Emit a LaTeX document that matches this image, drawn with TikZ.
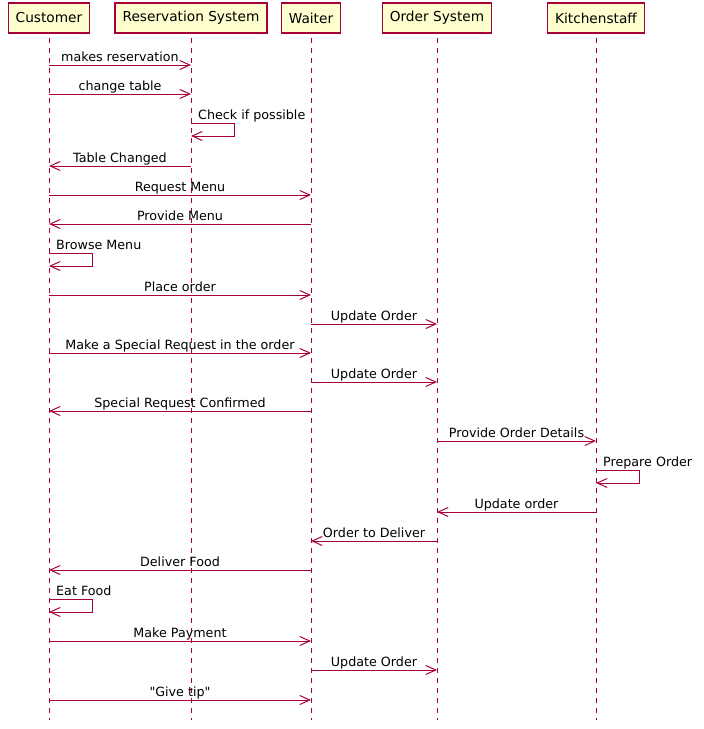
\documentclass[tikz,border=0pt]{standalone}
\usepackage{fontspec}
\setmainfont{DejaVu Sans}[Ligatures=TeXOff]
\usetikzlibrary{arrows.meta}
\definecolor{pumlred}{HTML}{A80036}
\definecolor{pumlfill}{HTML}{FEFECE}
\tikzset{
  part/.style={draw=pumlred, fill=pumlfill, line width=1.4pt, inner xsep=7.5pt,
    minimum height=30pt, font=\fontsize{13.7}{15}\selectfont, text=black},
  life/.style={draw=pumlred, line width=1pt, dash pattern=on 5pt off 5pt},
  msg/.style={draw=pumlred, line width=1pt, -{Straight Barb[length=10pt,width=9pt,line width=1pt]}},
  lbl/.style={anchor=base, inner sep=0pt, yshift=4pt, font=\fontsize{12.7}{14}\selectfont, text=black},
  slbl/.style={anchor=base west, inner sep=0pt, xshift=7pt, yshift=4pt, font=\fontsize{12.7}{14}\selectfont, text=black},
}
\newcommand{\seqmsg}[4]{\draw[msg] (#1 |- 0,#3) -- node[lbl]{#4} (#2 |- 0,#3);}
\newcommand{\seqself}[3]{%
  \draw[msg] (#1 |- 0,#2) -- ++(43,0) -- ++(0,13) -- (#1 |- 0,{#2+13});
  \node[slbl] at (#1 |- 0,#2) {#3};}
\begin{document}
\begin{tikzpicture}[x=1pt,y=-1pt]
\useasboundingbox[fill=white] (0,0) rectangle (704,729);
% lifelines
\coordinate (Ce) at (49,720);
\coordinate (Re) at (191,720);
\coordinate (We) at (311,720);
\coordinate (Oe) at (437,720);
\coordinate (Ke) at (596,720);
\coordinate (C) at (49,18);
\coordinate (R) at (191,18);
\coordinate (W) at (311,18);
\coordinate (O) at (437,18);
\coordinate (K) at (596,18);
\draw[life] (C) -- (Ce);
\draw[life] (R) -- (Re);
\draw[life] (W) -- (We);
\draw[life] (O) -- (Oe);
\draw[life] (K) -- (Ke);
% participants
\node[part] (Cust) at (C) {Customer};
\node[part] (Res) at (R) {Reservation System};
\node[part] (Wait) at (W) {Waiter};
\node[part] (Ord) at (O) {Order System};
\node[part] (Kit) at (K) {Kitchenstaff};
% messages
\seqmsg{C}{R}{65}{makes reservation}
\seqmsg{C}{R}{94}{change table}
\seqself{R}{123}{Check if possible}
\seqmsg{R}{C}{166}{Table Changed}
\seqmsg{C}{W}{195}{Request Menu}
\seqmsg{W}{C}{224}{Provide Menu}
\seqself{C}{253}{Browse Menu}
\seqmsg{C}{W}{295}{Place order}
\seqmsg{W}{O}{324}{Update Order}
\seqmsg{C}{W}{353}{Make a Special Request in the order}
\seqmsg{W}{O}{382}{Update Order}
\seqmsg{W}{C}{411}{Special Request Confirmed}
\seqmsg{O}{K}{441}{Provide Order Details}
\seqself{K}{470}{Prepare Order}
\seqmsg{K}{O}{512}{Update order}
\seqmsg{O}{W}{541}{Order to Deliver}
\seqmsg{W}{C}{570}{Deliver Food}
\seqself{C}{599}{Eat Food}
\seqmsg{C}{W}{641}{Make Payment}
\seqmsg{W}{O}{670}{Update Order}
\seqmsg{C}{W}{700}{"Give tip"}
\end{tikzpicture}
\end{document}
